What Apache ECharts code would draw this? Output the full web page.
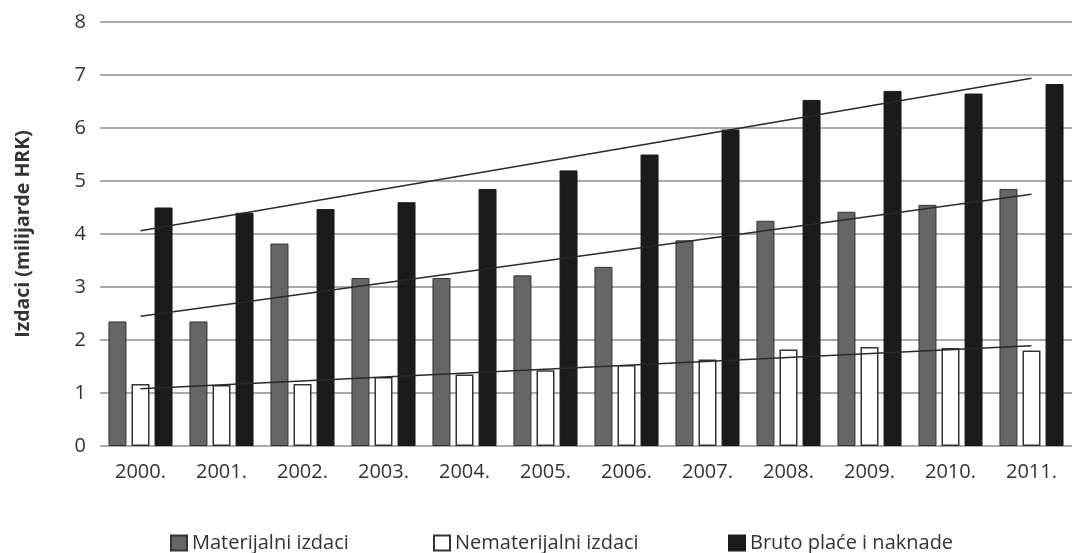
<!DOCTYPE html>
<html><head><meta charset="utf-8">
<script src="https://cdn.jsdelivr.net/npm/echarts@6/dist/echarts.min.js"></script>
<style>html,body{margin:0;padding:0;background:#fff}#c{width:1072px;height:553px}</style>
</head><body><div id="c"></div>
<script>
const years = ['2000.','2001.','2002.','2003.','2004.','2005.','2006.','2007.','2008.','2009.','2010.','2011.'];
const materijalni = [2.35, 2.35, 3.82, 3.17, 3.17, 3.22, 3.38, 3.88, 4.25, 4.42, 4.55, 4.85];
const nematerijalni = [1.17, 1.15, 1.17, 1.30, 1.35, 1.43, 1.53, 1.63, 1.82, 1.87, 1.85, 1.80];
const bruto = [4.50, 4.40, 4.47, 4.60, 4.85, 5.20, 5.50, 5.97, 6.53, 6.70, 6.65, 6.83];
// trend line endpoints (first year, last year)
const trendMaterijalni = [2.45, 4.75];
const trendNematerijalni = [1.08, 1.89];
const trendBruto = [4.06, 6.94];
const yTicks = [0,1,2,3,4,5,6,7,8];

function trendData(ends){
  return years.map((y,i)=> i===0 ? ends[0] : (i===years.length-1 ? ends[1] : null));
}
const font = '"Open Sans", "Noto Sans", sans-serif';
const chart = echarts.init(document.getElementById('c'));
const trendStyle = {color:'#2a2a2a', width:1.5};
chart.setOption({
  animation:false,
  backgroundColor:'#fff',
  grid:{left:100, right:-12, top:22, bottom:107},
  legend:[
    {data:['Materijalni izdaci'], left:170},
    {data:['Nematerijalni izdaci'], left:433},
    {data:['Bruto plaće i naknade'], left:728}
  ].map(l=>Object.assign(l,{top:533,itemWidth:16,itemHeight:15,itemGap:5,icon:'rect',padding:0,
      textStyle:{fontFamily:font,fontSize:20,color:'#333'}})),
  xAxis:{type:'category', data:years,
    axisLine:{show:false}, axisTick:{show:false},
    axisLabel:{fontFamily:font,fontSize:20,color:'#333',margin:16}},
  yAxis:{type:'value', min:0, max:8, interval:1,
    name:'Izdaci (milijarde HRK)', nameLocation:'middle', nameGap:67, nameRotate:90,
    nameTextStyle:{fontFamily:font,fontSize:19.5,fontWeight:'bold',color:'#333'},
    axisLine:{show:false}, axisTick:{show:false},
    axisLabel:{fontFamily:font,fontSize:20,color:'#333',margin:14,
      formatter:v=>yTicks.includes(v)?String(v):''},
    splitLine:{lineStyle:{color:'#aaaaaa',width:2}}},
  series:[
    {name:'Materijalni izdaci', type:'bar', data:materijalni, barWidth:18, barGap:'28%',
      itemStyle:{color:'#666666', borderColor:'#333', borderWidth:1}},
    {name:'Nematerijalni izdaci', type:'bar', data:nematerijalni, barWidth:18, barGap:'28%',
      itemStyle:{color:'#ffffff', borderColor:'#333', borderWidth:1.5}},
    {name:'Bruto plaće i naknade', type:'bar', data:bruto, barWidth:18, barGap:'28%',
      itemStyle:{color:'#1b1b1b', borderColor:'#1b1b1b', borderWidth:1}},
    {type:'line', data:trendData(trendMaterijalni), connectNulls:true, symbol:'none', lineStyle:trendStyle, z:5, silent:true},
    {type:'line', data:trendData(trendNematerijalni), connectNulls:true, symbol:'none', lineStyle:trendStyle, z:5, silent:true},
    {type:'line', data:trendData(trendBruto), connectNulls:true, symbol:'none', lineStyle:trendStyle, z:5, silent:true}
  ]
});
</script></body></html>
